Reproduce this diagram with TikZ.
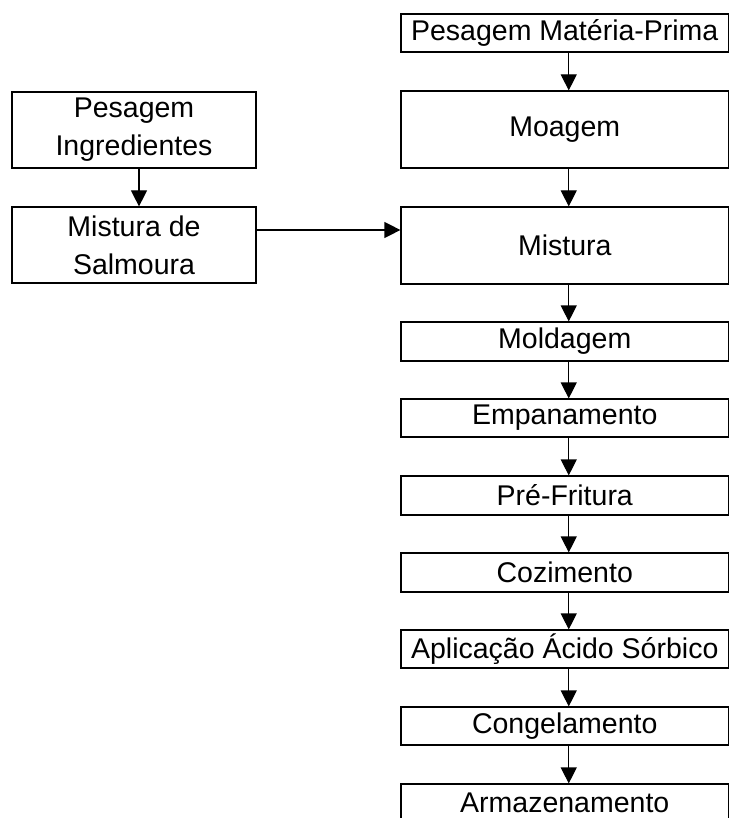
\documentclass[tikz,border=0pt]{standalone}
\usepackage{fontspec}
\setmainfont{Liberation Sans}
\usetikzlibrary{arrows.meta}
\begin{document}
\begin{tikzpicture}[x=1pt,y=-1pt,
  box/.style={draw, line width=1.2pt, inner sep=0pt, font=\fontsize{28.5}{38}\selectfont, align=center},
  rbox/.style={box, minimum width=327.5pt},
  lbox/.style={box, minimum width=244pt, minimum height=76pt},
  arr/.style={line width=1.2pt, -{Triangle[length=16pt,width=16pt]}}]
\useasboundingbox (0,0) rectangle (730,818);
\clip (0,0) rectangle (730,818);
% right column
\node[rbox, minimum height=38pt] (pm) at (564.75,33) {Pesagem Matéria-Prima};
\node[rbox, minimum height=77pt] (mo) at (564.75,129.5) {Moagem};
\node[rbox, minimum height=77pt] (mi) at (564.75,245.5) {Mistura};
\node[rbox, minimum height=39pt] (ml) at (564.75,341.5) {Moldagem};
\node[rbox, minimum height=38pt] (em) at (564.75,418) {Empanamento};
\node[rbox, minimum height=39pt] (pf) at (564.75,495.5) {Pré-Fritura};
\node[rbox, minimum height=39pt] (co) at (564.75,572.5) {Cozimento};
\node[rbox, minimum height=38pt] (ap) at (564.75,649) {Aplicação Ácido Sórbico};
\node[rbox, minimum height=38pt] (cg) at (564.75,726) {Congelamento};
\node[rbox, minimum height=38pt] (ar) at (564.75,803) {Armazenamento};
% left column
\node[lbox] (pi) at (134,130) {Pesagem\\Ingredientes};
\node[lbox] (ms) at (134,245) {Mistura de\\Salmoura};
% arrows right column
\foreach \a/\b in {pm/mo, mo/mi, mi/ml, ml/em, em/pf, pf/co, co/ap, ap/cg, cg/ar}
  \draw[arr] ([xshift=4pt]\a.south) -- ([xshift=4pt]\b.north);
% arrows left
\draw[arr] ([xshift=5pt]pi.south) -- ([xshift=5pt]ms.north);
\coordinate (h) at ([yshift=15pt]ms.east);
\draw[arr] (h) -- (h -| mi.west);
\end{tikzpicture}
\end{document}
